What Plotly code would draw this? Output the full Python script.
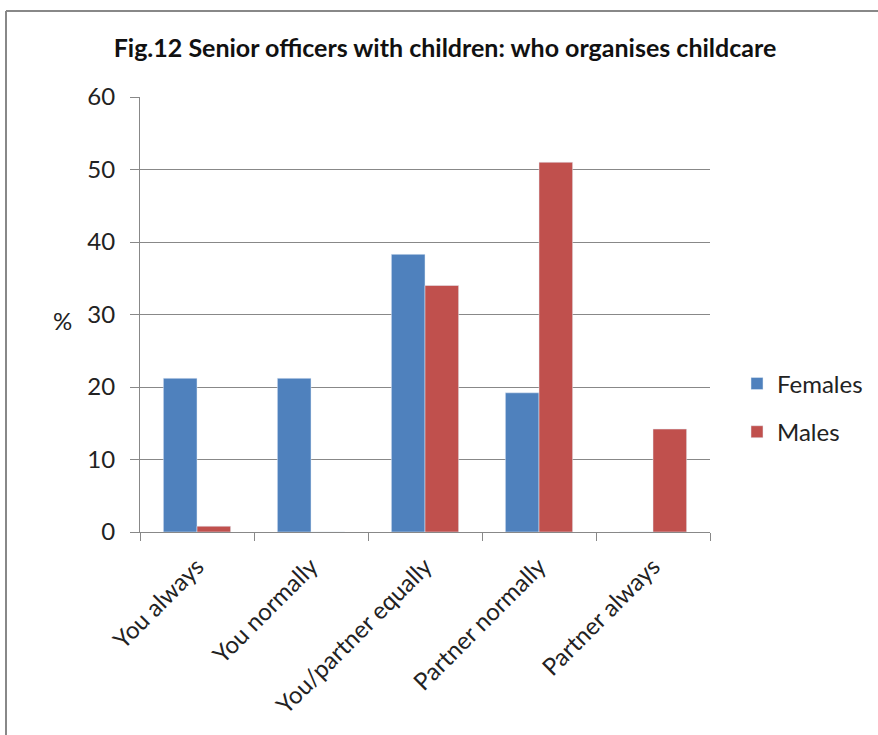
import plotly.graph_objects as go

categories = ["You always", "You normally", "You/partner equally", "Partner normally", "Partner always"]
females = [21.2, 21.2, 38.3, 19.2, 0]
males = [0.8, 0, 34.0, 51.0, 14.2]
y_ticks = [0, 10, 20, 30, 40, 50, 60]

FONT = "Lato, 'Open Sans', sans-serif"

fig = go.Figure()
fig.add_trace(go.Bar(name="Females", x=categories, y=females, marker_color="#4F81BD",
                     legendgroup="f"))
fig.add_trace(go.Bar(name="Males", x=categories, y=males, marker_color="#C0504D",
                     legendgroup="m"))

W, H = 878, 735
L, R, T, B = 140, 168, 97, 203
pw, ph = W - L - R, H - T - B

def px(x):
    return (x - L) / pw

def py(y):
    return (H - B - y) / ph

fig.update_layout(
    width=W, height=H,
    margin=dict(l=L, r=R, t=T, b=B, autoexpand=False),
    paper_bgcolor="white", plot_bgcolor="white",
    barmode="group", bargap=0.41, bargroupgap=0,
    font=dict(family=FONT, size=24, color="#222"),
    title=dict(text="<b>Fig.12 Senior officers with children: who organises childcare</b>",
               x=px(445), xref="paper", xanchor="center", y=1 - 48 / H, yanchor="middle",
               font=dict(family=FONT, size=25, color="#111")),
    xaxis=dict(showline=True, linecolor="#888", linewidth=1, tickangle=-45,
               ticks="outside", ticklen=8, tickcolor="#888", tickson="boundaries",
               tickfont=dict(size=24, color="#222"), showgrid=False, ticklabelstandoff=10),
    yaxis=dict(range=[0, 60], tickvals=y_ticks, showline=True, linecolor="#888", linewidth=1,
               ticks="outside", ticklen=9, tickcolor="#888", gridcolor="#888", gridwidth=1,
               tickfont=dict(size=24, color="#222"), zeroline=False, ticklabelstandoff=10),
    legend=dict(x=px(737), xanchor="left", y=py(381) + 0.045, yanchor="top",
                font=dict(size=24, color="#222"), tracegroupgap=14, itemwidth=30,
                bgcolor="rgba(0,0,0,0)"),
    showlegend=True,
)

fig.add_annotation(text="%", x=px(62), y=py(320), xref="paper", yref="paper",
                   xanchor="center", yanchor="middle",
                   showarrow=False, font=dict(size=24, color="#222"))

fig.add_shape(type="line", xref="paper", yref="paper", x0=px(6), x1=px(6), y0=py(11), y1=py(760),
              line=dict(color="#888", width=2))
fig.add_shape(type="line", xref="paper", yref="paper", x0=px(6), x1=px(900), y0=py(11), y1=py(11),
              line=dict(color="#888", width=2))

fig.write_html("out.html")
